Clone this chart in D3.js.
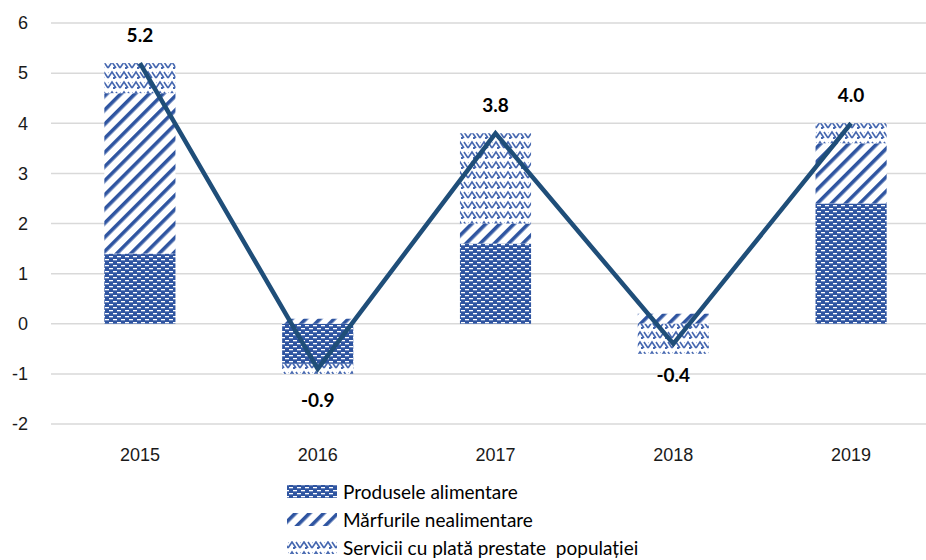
<html>
<head>
<script src="https://cdnjs.cloudflare.com/ajax/libs/d3/7.8.5/d3.min.js"></script>
<style>
  body { margin: 0; background: #fff; }
  svg { display: block; font-family: Lato, "Open Sans", sans-serif; }
  .tick text { font-size: 18px; fill: #1a1a1a; }
  .valueLabel { font-size: 19px; font-weight: bold; fill: #000; }
  .legendText { font-size: 19px; fill: #000; white-space: pre; }
</style>
</head>
<body>
<script>
// years and contributions (percentage points)
var years = ["2015", "2016", "2017", "2018", "2019"];
var food = [1.4, -0.8, 1.6, 0.0, 2.4];
var nonFood = [3.2, 0.1, 0.4, 0.2, 1.2];
var services = [0.6, -0.2, 1.8, -0.6, 0.4];
var totals = [5.2, -0.9, 3.8, -0.4, 4.0];
var yTicks = [-2, -1, 0, 1, 2, 3, 4, 5, 6];
var seriesNames = ["Produsele alimentare", "Mărfurile nealimentare", "Servicii cu plată prestate  populației"];

var width = 926, height = 560;
var svg = d3.select("body").append("svg")
    .attr("width", width)
    .attr("height", height);

var defs = svg.append("defs");
var blue = "#2f55a1";

// food: solid blue with white dashes
var p1 = defs.append("pattern").attr("id", "pFood")
    .attr("patternUnits", "userSpaceOnUse").attr("width", 8).attr("height", 6);
p1.append("rect").attr("width", 8).attr("height", 6).attr("fill", blue);
p1.append("rect").attr("x", 1).attr("y", 1).attr("width", 4).attr("height", 1.3).attr("fill", "#fff");
p1.append("rect").attr("x", 5).attr("y", 4).attr("width", 4).attr("height", 1.3).attr("fill", "#fff");
p1.append("rect").attr("x", -3).attr("y", 4).attr("width", 4).attr("height", 1.3).attr("fill", "#fff");

// non food: wide diagonal stripes
var p2 = defs.append("pattern").attr("id", "pNonFood")
    .attr("patternUnits", "userSpaceOnUse").attr("width", 10).attr("height", 10)
    .attr("patternTransform", "rotate(45)");
p2.append("rect").attr("width", 10).attr("height", 10).attr("fill", "#fff");
p2.append("rect").attr("x", 0).attr("y", 0).attr("width", 3.6).attr("height", 10).attr("fill", blue);

// services: chevron weave
var p3 = defs.append("pattern").attr("id", "pServ")
    .attr("patternUnits", "userSpaceOnUse").attr("width", 12).attr("height", 10);
p3.append("rect").attr("width", 12).attr("height", 10).attr("fill", "#fff");
p3.append("path").attr("d", "M0,8 L4,2 L8,8 M8,2 L12,8 M-4,8 L0,2")
    .attr("fill", "none").attr("stroke", "#4567b0").attr("stroke-width", 1.6);
p3.append("rect").attr("x", 5).attr("y", 7).attr("width", 2).attr("height", 2).attr("fill", "#4567b0");

var x = d3.scaleBand().domain(years).range([51, 940]).paddingInner(0.6).paddingOuter(0.3);
var y = d3.scaleLinear().domain([-2, 6]).range([424, 23]);

// gridlines
svg.append("g").selectAll("line").data(yTicks).join("line")
    .attr("x1", 51).attr("x2", width)
    .attr("y1", d => y(d)).attr("y2", d => y(d))
    .attr("stroke", "#d9d9d9").attr("stroke-width", 1.5);

// y axis labels
var yAxis = svg.append("g").attr("transform", "translate(40,0)")
    .call(d3.axisLeft(y).tickValues(yTicks).tickFormat(d => String(d)).tickSize(0).tickPadding(12));
yAxis.select(".domain").remove();

// x axis labels
var xAxis = svg.append("g").attr("transform", "translate(0,448)")
    .call(d3.axisBottom(x).tickSize(0).tickPadding(0));
xAxis.select(".domain").remove();

// stacked bars (positive and negative stacked separately)
var series = [food, nonFood, services];
var fills = ["url(#pFood)", "url(#pNonFood)", "url(#pServ)"];
var bars = svg.append("g");
years.forEach(function(yr, i) {
  var pos = 0, neg = 0;
  series.forEach(function(s, k) {
    var v = s[i];
    if (v === 0) return;
    var y0, y1;
    if (v > 0) { y0 = pos; y1 = pos + v; pos = y1; }
    else { y0 = neg; y1 = neg + v; neg = y1; }
    bars.append("rect")
      .attr("x", x(yr))
      .attr("width", x.bandwidth())
      .attr("y", y(Math.max(y0, y1)))
      .attr("height", Math.abs(y(y0) - y(y1)))
      .attr("fill", fills[k]);
  });
});

// total line
var line = d3.line()
    .x((d, i) => x(years[i]) + x.bandwidth() / 2)
    .y(d => y(d));
svg.append("path").datum(totals)
    .attr("d", line)
    .attr("fill", "none")
    .attr("stroke", "#1f4e79")
    .attr("stroke-width", 4.5)
    .attr("stroke-linejoin", "miter");

// value labels
svg.append("g").selectAll("text").data(totals).join("text")
    .attr("class", "valueLabel")
    .attr("text-anchor", "middle")
    .attr("x", (d, i) => x(years[i]) + x.bandwidth() / 2)
    .attr("y", d => d >= 0 ? y(d) - 21 : y(d) + 38)
    .text(d => d.toFixed(1));

// legend
var legend = svg.append("g");
seriesNames.forEach(function(name, k) {
  var ly = 492 + k * 28;
  legend.append("rect")
    .attr("x", 287).attr("y", ly - 7)
    .attr("width", 50).attr("height", 13)
    .attr("fill", fills[k]);
  legend.append("text")
    .attr("class", "legendText")
    .attr("x", 343).attr("y", ly + 7)
    .text(name);
});
</script>
</body>
</html>
